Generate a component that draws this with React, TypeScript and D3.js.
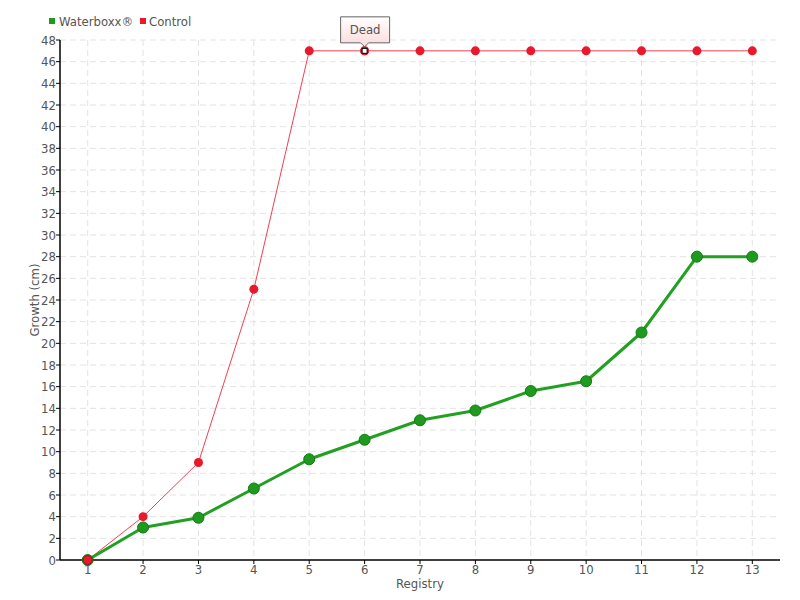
import React from "react";
import * as d3 from "d3";

const registries = [1, 2, 3, 4, 5, 6, 7, 8, 9, 10, 11, 12, 13];
const waterboxx = [0, 3, 3.9, 6.6, 9.3, 11.1, 12.9, 13.8, 15.6, 16.5, 21, 28, 28];
const control = [0, 4, 9, 25, 47, 47, 47, 47, 47, 47, 47, 47, 47];
const yTicks = d3.range(0, 49, 2);
const seriesNames = ["Waterboxx®", "Control"];
const tooltipIndex = 5;
const tooltipText = "Dead";

const FONT = "'DejaVu Sans Condensed', 'DejaVu Sans', sans-serif";

export default function App() {
  const W = 800, H = 600;
  const left = 60, right = 780, top = 40, bottom = 560;
  const x = d3.scaleLinear().domain([0.5, 13.5]).range([left, right]);
  const y = d3.scaleLinear().domain([0, 48]).range([bottom, top]);
  const line = d3.line<number>().x((_, i) => x(registries[i])).y((d) => y(d));

  const tx = x(registries[tooltipIndex]);
  const ty = y(control[tooltipIndex]);

  return (
    <svg width={W} height={H} style={{ position: "absolute", left: 0, top: 0, fontFamily: FONT }}>
      <defs>
        <linearGradient id="tipg" x1="0" y1="0" x2="0" y2="1">
          <stop offset="0" stopColor="#ffffff" />
          <stop offset="1" stopColor="#fbd9da" />
        </linearGradient>
      </defs>
      <rect width={W} height={H} fill="#fff" />
      {/* grid */}
      {yTicks.map((t) => (
        <line key={"gy" + t} x1={left} x2={right} y1={y(t)} y2={y(t)} stroke="#e3e3e3" strokeDasharray="6,4" />
      ))}
      {registries.map((r) => (
        <line key={"gx" + r} x1={x(r)} x2={x(r)} y1={top} y2={bottom} stroke="#e3e3e3" strokeDasharray="6,4" />
      ))}
      {/* axes */}
      <line x1={left} x2={left} y1={top} y2={bottom} stroke="#000" strokeWidth={1.5} />
      <line x1={left} x2={right} y1={bottom} y2={bottom} stroke="#000" strokeWidth={1.5} />
      {yTicks.map((t) => (
        <g key={"yt" + t}>
          <line x1={left - 4} x2={left} y1={y(t)} y2={y(t)} stroke="#000" />
          <text x={left - 4} y={y(t)} dy="0.35em" textAnchor="end" fontSize={13} fill="#555">{t}</text>
        </g>
      ))}
      {registries.map((r) => (
        <g key={"xt" + r}>
          <line x1={x(r)} x2={x(r)} y1={bottom} y2={bottom + 4} stroke="#000" />
          <text x={x(r)} y={bottom + 14} textAnchor="middle" fontSize={13} fill="#555">{r}</text>
        </g>
      ))}
      <text x={(left + right) / 2} y={588} textAnchor="middle" fontSize={13} fill="#555">Registry</text>
      <text transform={`translate(39,${(top + bottom) / 2}) rotate(-90)`} textAnchor="middle" fontSize={13} fill="#555">Growth (cm)</text>

      {/* control */}
      <path d={line(control) || ""} fill="none" stroke="#f0404f" strokeWidth={1} />
      {control.map((v, i) => (
        <circle key={"c" + i} cx={x(registries[i])} cy={y(v)} r={4.5} fill="#e8192c" />
      ))}
      {/* waterboxx */}
      <path d={line(waterboxx) || ""} fill="none" stroke="#22a022" strokeWidth={3} strokeLinejoin="round" />
      {waterboxx.map((v, i) => (
        <circle key={"w" + i} cx={x(registries[i])} cy={y(v)} r={5.5} fill="#1e9a1e" stroke="#157a15" strokeWidth={1} />
      ))}
      {/* first red point drawn over */}
      <circle cx={x(registries[0])} cy={y(control[0])} r={4.5} fill="#e8192c" stroke="#a01020" strokeWidth={1} />

      {/* highlighted point */}
      <circle cx={tx} cy={ty} r={4.5} fill="#e8192c" />
      <rect x={tx - 2.5} y={ty - 2.5} width={5} height={5} fill="#fff" stroke="#000" strokeWidth={1} />

      {/* tooltip */}
      <path
        d={`M${tx - 24},${ty - 34} H${tx + 25} V${ty - 8} H${tx + 4} L${tx},${ty - 4} L${tx - 4},${ty - 8} H${tx - 24} Z`}
        fill="url(#tipg)"
        stroke="#666"
        strokeWidth={1}
      />
      <text x={tx + 0.5} y={ty - 21} dy="0.35em" textAnchor="middle" fontSize={13} fill="#555">{tooltipText}</text>

      {/* legend */}
      <rect x={49} y={18} width={6} height={6} fill="#1e9a1e" />
      <text x={59} y={21} dy="0.35em" fontSize={13} fill="#555">{seriesNames[0]}</text>
      <rect x={140} y={18} width={6} height={6} fill="#e8192c" />
      <text x={149} y={21} dy="0.35em" fontSize={13} fill="#555">{seriesNames[1]}</text>
    </svg>
  );
}
